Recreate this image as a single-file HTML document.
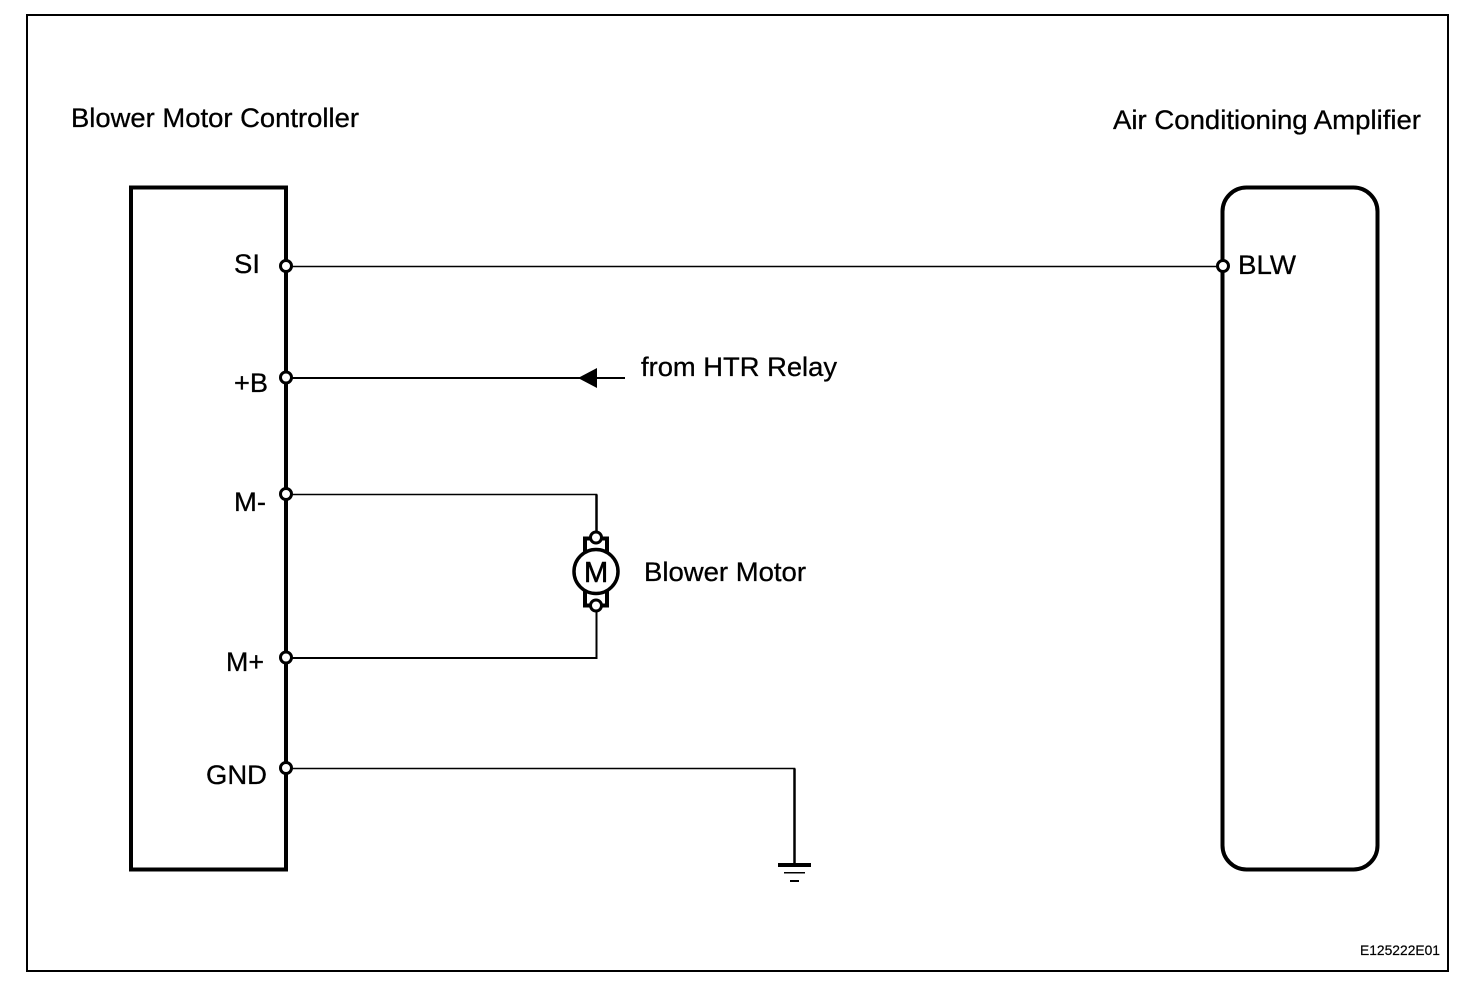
<!DOCTYPE html>
<html>
<head>
<meta charset="utf-8">
<style>
html,body{margin:0;padding:0;background:#fff;width:1472px;height:988px;overflow:hidden}
svg{display:block}
text{font-family:"Liberation Sans",sans-serif;font-size:26.5px;fill:#000;stroke:#000;stroke-width:.3}
</style>
</head>
<body>
<svg width="1472" height="988" viewBox="0 0 1472 988" xmlns="http://www.w3.org/2000/svg">
<rect x="27" y="15" width="1421" height="956" fill="none" stroke="#000" stroke-width="2"/>
<rect x="131" y="187.500" width="155" height="682" fill="none" stroke="#000" stroke-width="4"/>
<rect x="1222.500" y="187.500" width="155" height="682" rx="24" ry="24" fill="none" stroke="#000" stroke-width="4"/>
<g fill="none" stroke="#000">
<path d="M286 266.500H1223" stroke-width="1.500"/>
<path d="M286 378H625" stroke-width="2"/>
<path d="M286 494.500H596.500V537" stroke-width="1.500"/>
<path d="M596.500 494.500V537" stroke-width="2.500"/>
<path d="M286 658H596.500V606" stroke-width="2"/>
<path d="M286 768.500H794.500V864" stroke-width="1.500"/>
<path d="M794.500 768.500V864" stroke-width="2.500"/>
</g>
<path d="M578 378L597 368V388Z" fill="#000"/>
<g fill="#000">
<rect x="778" y="863" width="33" height="4"/>
<rect x="784" y="872" width="21" height="1.500"/>
<rect x="790" y="880" width="9" height="2"/>
</g>
<g fill="none" stroke="#000" stroke-width="4">
<path d="M585 553V538.500H607V553"/>
<path d="M585 591V605.500H607V591"/>
</g>
<circle cx="596" cy="571.500" r="22" fill="#fff" stroke="#000" stroke-width="3.500"/>
<g fill="#fff" stroke="#000" stroke-width="3">
<circle cx="286" cy="266" r="5.500"/>
<circle cx="286" cy="377.500" r="5.500"/>
<circle cx="286" cy="494" r="5.500"/>
<circle cx="286" cy="657.500" r="5.500"/>
<circle cx="286" cy="768" r="5.500"/>
<circle cx="1223" cy="266" r="5.500"/>
<circle cx="596" cy="537.500" r="5.500"/>
<circle cx="596" cy="605.500" r="5.500"/>
</g>
<text x="71" y="127" textLength="288" lengthAdjust="spacingAndGlyphs">Blower Motor Controller</text>
<text x="1113" y="129" textLength="308" lengthAdjust="spacingAndGlyphs">Air Conditioning Amplifier</text>
<text x="234" y="273" textLength="26" lengthAdjust="spacingAndGlyphs">SI</text>
<text x="234" y="392" textLength="34" lengthAdjust="spacingAndGlyphs">+B</text>
<text x="234" y="511" textLength="32" lengthAdjust="spacingAndGlyphs">M-</text>
<text x="226" y="671" textLength="38" lengthAdjust="spacingAndGlyphs">M+</text>
<text x="206" y="784" textLength="61" lengthAdjust="spacingAndGlyphs">GND</text>
<text x="1238" y="274" textLength="58" lengthAdjust="spacingAndGlyphs">BLW</text>
<text x="641" y="376" textLength="196" lengthAdjust="spacingAndGlyphs">from HTR Relay</text>
<text x="644" y="581" textLength="162" lengthAdjust="spacingAndGlyphs">Blower Motor</text>
<text x="584" y="582" style="font-size:29px;stroke-width:.6">M</text>
<text x="1360" y="955" textLength="80" lengthAdjust="spacingAndGlyphs" style="font-size:13.500px;stroke-width:.2">E125222E01</text>
</svg>
</body>
</html>
